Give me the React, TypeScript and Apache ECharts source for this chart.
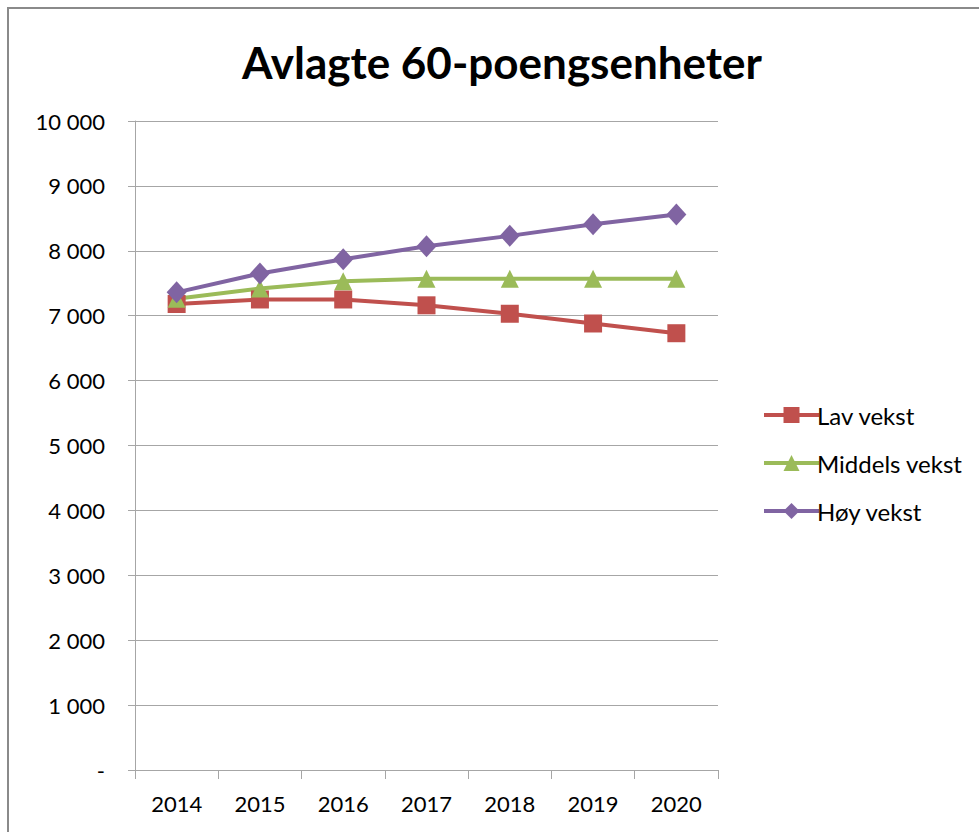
import React, { useEffect, useRef } from "react";
import * as echarts from "echarts";

const years = ["2014", "2015", "2016", "2017", "2018", "2019", "2020"];
const lavVekst = [7180, 7250, 7250, 7160, 7030, 6880, 6730];
const middelsVekst = [7260, 7420, 7530, 7570, 7570, 7570, 7570];
const hoyVekst = [7360, 7650, 7870, 8070, 8230, 8410, 8560];
const seriesNames = ["Lav vekst", "Middels vekst", "Høy vekst"];
const colors = ["#C0504D", "#9BBB59", "#8064A2"];

const fmt = (v: number) => {
  if (v === 0) return "-";
  const s = String(Math.round(v));
  return s.replace(/\B(?=(\d{3})+(?!\d))/g, " ");
};

export default function App() {
  const ref = useRef<HTMLDivElement>(null);
  useEffect(() => {
    if (!ref.current) return;
    const chart = echarts.init(ref.current, null, { renderer: "svg" });
    const labelFont = "Lato, 'Open Sans', sans-serif";
    chart.setOption({
      animation: false,
      backgroundColor: "#ffffff",
      title: {
        text: "Avlagte 60-poengsenheter",
        left: 497,
        textAlign: "center",
        top: 35,
        textStyle: {
          fontFamily: labelFont,
          fontWeight: "bold",
          fontSize: 44,
          color: "#000",
        },
      },
      graphic: [
        {
          type: "rect",
          shape: { x: 8, y: 8, width: 1000, height: 900 },
          style: { fill: "none", stroke: "#8a8a8a", lineWidth: 2 },
          silent: true,
        },
      ],
      legend: {
        orient: "vertical",
        left: 757,
        top: 398,
        itemWidth: 55,
        itemHeight: 20,
        itemGap: 24,
        data: seriesNames,
        lineStyle: { width: 4 },
        textStyle: { fontFamily: labelFont, fontSize: 24, color: "#000", padding: [0, 0, 0, -7] },
      },
      grid: { left: 135, right: 261, top: 121, bottom: 62, containLabel: false },
      xAxis: {
        type: "category",
        data: years,
        boundaryGap: true,
        axisLine: { lineStyle: { color: "#a6a6a6", width: 1 } },
        axisTick: { show: true, length: 9, lineStyle: { color: "#a6a6a6" } },
        axisLabel: {
          fontFamily: labelFont,
          fontSize: 22,
          color: "#000",
          margin: 22,
        },
      },
      yAxis: {
        type: "value",
        min: 0,
        max: 10000,
        interval: 1000,
        axisLine: { show: true, lineStyle: { color: "#a6a6a6", width: 1 } },
        axisTick: { show: true, length: 7, lineStyle: { color: "#a6a6a6" } },
        splitLine: { show: true, lineStyle: { color: "#a6a6a6", width: 1 } },
        axisLabel: {
          formatter: fmt,
          fontFamily: labelFont,
          fontSize: 22,
          color: "#000",
          margin: 30,
        },
      },
      series: [
        {
          name: seriesNames[0],
          type: "line",
          data: lavVekst,
          color: colors[0],
          symbol: "rect",
          symbolSize: 18,
          lineStyle: { width: 4 },
        },
        {
          name: seriesNames[1],
          type: "line",
          data: middelsVekst,
          color: colors[1],
          symbol: "triangle",
          symbolSize: 18,
          lineStyle: { width: 4 },
        },
        {
          name: seriesNames[2],
          type: "line",
          data: hoyVekst,
          color: colors[2],
          symbol: "diamond",
          symbolSize: [20, 22],
          lineStyle: { width: 4 },
        },
      ],
    });
    return () => chart.dispose();
  }, []);
  return (
    <div
      ref={ref}
      style={{ position: "absolute", left: 0, top: 0, width: 979, height: 832 }}
    />
  );
}
